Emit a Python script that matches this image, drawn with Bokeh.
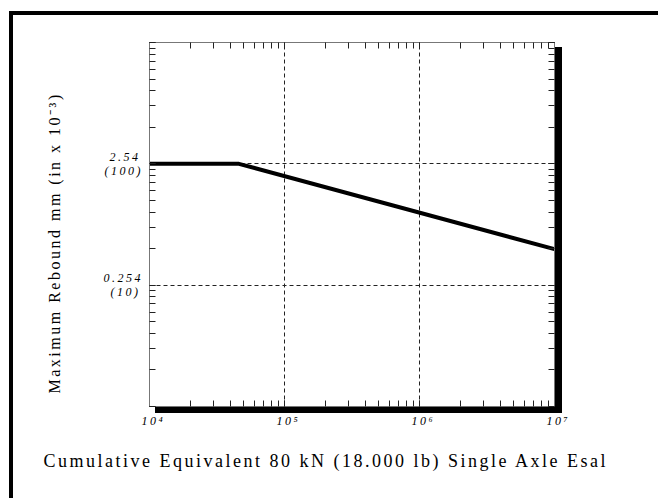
from bokeh.embed import file_html
from bokeh.models import InlineStyleSheet, LogAxis, LogTicker, Title
from bokeh.plotting import figure
from bokeh.resources import INLINE

# Design rebound curve: cumulative 80 kN ESALs vs. maximum rebound (10^-3 in)
esal = [1e4, 4.6e4, 1e7]
rebound = [100, 100, 19.8]

x_decades = [10000, 100000, 1000000, 10000000]
x_decade_labels = ["10⁴", "10⁵", "10⁶", "10⁷"]
y_decades = [1, 10, 100, 1000]
y_decade_labels = ["", "0.254\n(10)", "2.54\n(100)", ""]
grid_x = [100000, 1000000]
grid_y = [10, 100]

x_title = "Cumulative Equivalent 80 kN (18.000 lb) Single Axle Esal"
y_title = "Maximum Rebound mm (in x 10⁻³)"

SERIF = "Liberation Serif"

p = figure(
    width=658, height=498,
    x_axis_type="log", y_axis_type="log",
    x_range=(x_decades[0], x_decades[-1]),
    y_range=(y_decades[0], y_decades[-1]),
    output_backend="svg", toolbar_location=None,
    min_border_left=149, min_border_right=104,
    min_border_top=42, min_border_bottom=92,
    background_fill_color="white", border_fill_color="white",
)
# spaced-out lettering, page border (top/left) and the frame's drop shadow
p.styles = {"letter-spacing": "2.5px"}
p.stylesheets = [InlineStyleSheet(css="""
:host::before {
  content: ""; position: absolute; left: 9px; top: 11px;
  width: 649px; height: 487px; box-sizing: border-box;
  border-top: 4px solid black; border-left: 4px solid black;
  pointer-events: none; z-index: 10;
}
:host::after {
  content: ""; position: absolute; left: 155px; top: 47px;
  width: 407px; height: 366px; box-sizing: border-box;
  border-right: 7px solid black; border-bottom: 6px solid black;
  pointer-events: none; z-index: 10;
}
""")]
p.outline_line_color = "#777777"
p.outline_line_width = 1

# grid: dashed lines at the inner decades only
p.xgrid.ticker = grid_x
p.ygrid.ticker = grid_y
for g in (p.xgrid, p.ygrid):
    g.grid_line_color = "#222222"
    g.grid_line_width = 1
    g.grid_line_dash = "4 3"

def style_axis(ax, show_labels):
    ax.ticker = LogTicker(num_minor_ticks=10)
    ax.axis_line_color = "#777777"
    ax.major_tick_in = 0
    ax.major_tick_out = 0
    ax.minor_tick_in = 6
    ax.minor_tick_out = 0
    ax.minor_tick_line_color = "#222222"
    ax.major_label_text_font = SERIF
    ax.major_label_text_font_style = "italic"
    ax.major_label_text_font_size = "12px"
    ax.major_label_text_line_height = 1.0
    ax.major_label_text_color = "black"
    ax.major_label_text_alpha = 1 if show_labels else 0

bottom = p.xaxis[0]
left = p.yaxis[0]
style_axis(bottom, True)
style_axis(left, True)
bottom.major_label_overrides = dict(zip(x_decades, x_decade_labels))
left.major_label_overrides = dict(zip(y_decades, y_decade_labels))
bottom.major_label_standoff = 7
left.major_label_standoff = 19

top_axis = LogAxis()
right_axis = LogAxis()
style_axis(top_axis, False)
style_axis(right_axis, False)
p.add_layout(top_axis, "above")
p.add_layout(right_axis, "right")

# the curve
p.line(esal, rebound, line_color="black", line_width=4)

# axis titles
p.add_layout(Title(text=x_title, align="left", offset=-106, standoff=36,
                   text_font=SERIF, text_font_size="18px",
                   text_font_style="normal", text_color="black"), "below")
p.add_layout(Title(text=y_title, align="left", offset=13, standoff=76,
                   text_font=SERIF, text_font_size="16px",
                   text_font_style="normal", text_color="black"), "left")

open("out.html", "w").write(file_html(p, INLINE))
